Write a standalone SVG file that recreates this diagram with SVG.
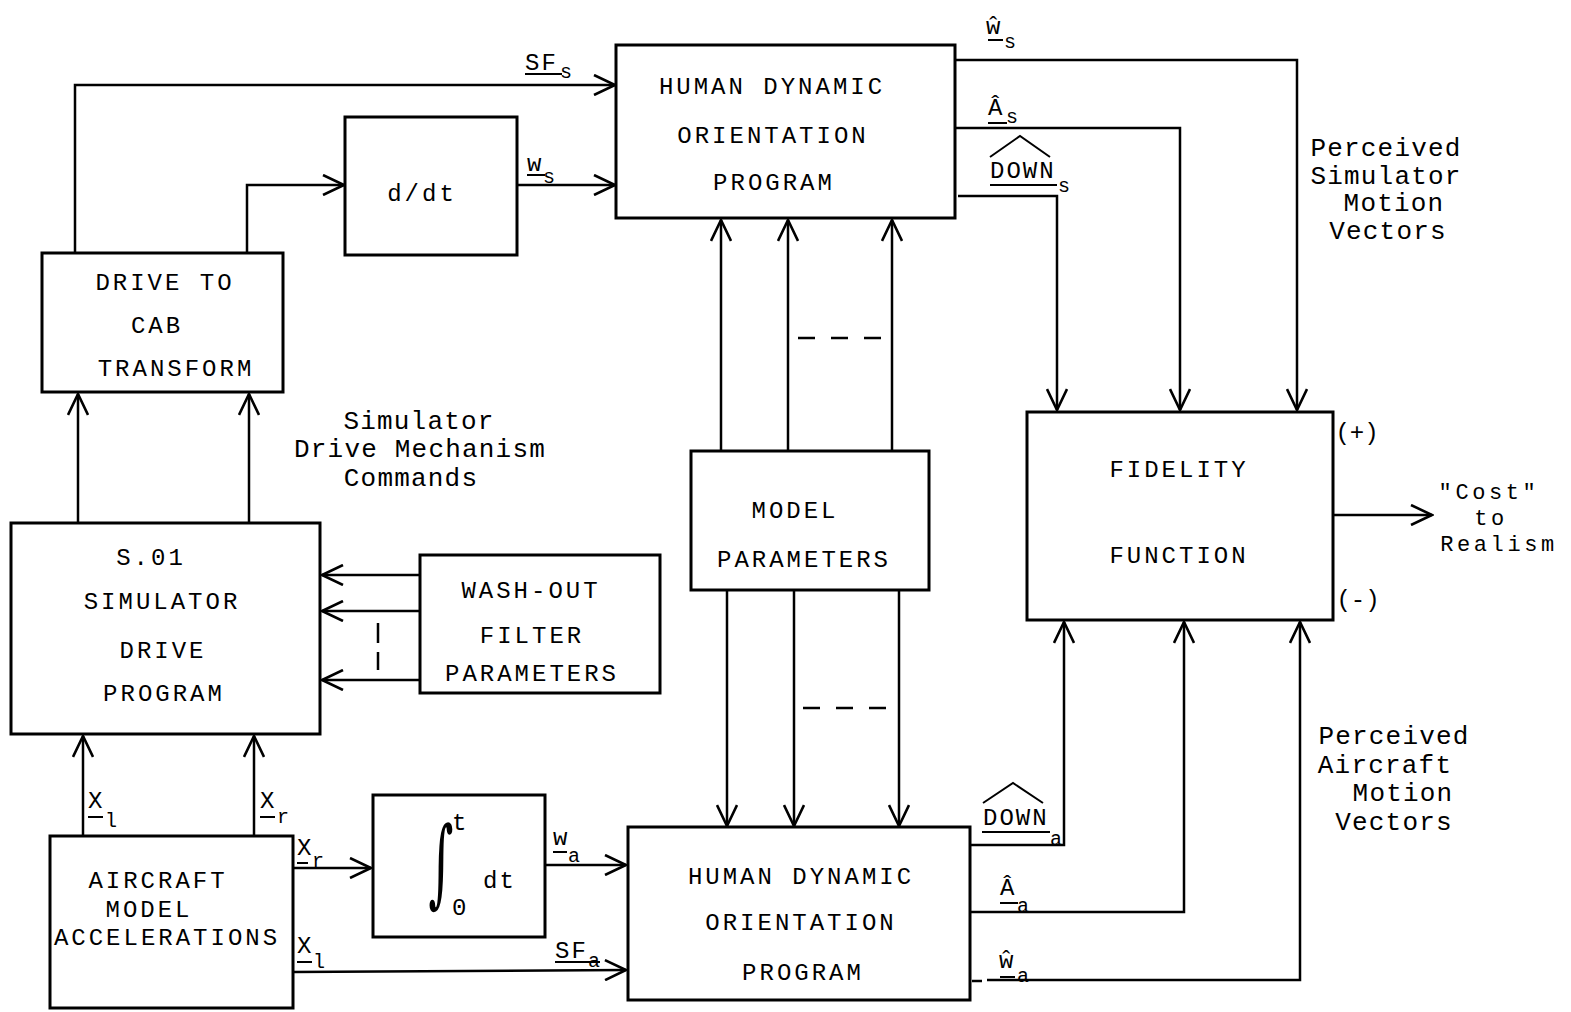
<svg xmlns="http://www.w3.org/2000/svg" width="1571" height="1012" viewBox="0 0 1571 1012">
<defs>
<marker id="arr" viewBox="0 0 24 22" refX="22" refY="11" markerWidth="24" markerHeight="22" markerUnits="userSpaceOnUse" orient="auto">
<path d="M1,1 L22,11 L1,21" fill="none" stroke="#000" stroke-width="2.6"/>
</marker>
<style>
rect.box{fill:#fff;stroke:#000;stroke-width:3}
.lbl{font-family:"Liberation Mono",monospace;font-size:24px;letter-spacing:3px;text-anchor:middle;fill:#000}
.note{font-family:"Liberation Mono",monospace;font-size:26px;letter-spacing:1.2px;text-anchor:middle;fill:#000}
.cost{font-family:"Liberation Mono",monospace;font-size:22px;letter-spacing:3.6px;text-anchor:middle;fill:#000}
.v{font-family:"Liberation Mono",monospace;font-size:24px;letter-spacing:2px;fill:#000}
.sub{font-family:"Liberation Mono",monospace;font-size:20px;fill:#000}
.c{fill:none;stroke:#000;stroke-width:2.5}
.ca{fill:none;stroke:#000;stroke-width:2.5;marker-end:url(#arr)}
.u{stroke:#000;stroke-width:2}
.d{fill:none;stroke:#000;stroke-width:2.5;stroke-dasharray:17,16}
</style>
</defs>
<rect width="1571" height="1012" fill="#fff"/>

<g id="connectors">
<path class="ca" d="M75,253 V85 H615"/>
<path class="ca" d="M247,253 V185 H344"/>
<path class="ca" d="M517,185 H615"/>
<path class="ca" d="M78,523 V394"/>
<path class="ca" d="M249,523 V394"/>
<path class="ca" d="M420,575 H322"/>
<path class="ca" d="M420,611 H322"/>
<path class="ca" d="M420,680 H322"/>
<path class="c" d="M378,623 V643 M378,652 V670"/>
<path class="ca" d="M83,836 V736"/>
<path class="ca" d="M254,836 V736"/>
<path class="ca" d="M293,868 H371"/>
<path class="ca" d="M545,865 H626"/>
<path class="ca" d="M293,972 L626,970"/>
<path class="ca" d="M721,450 V220"/>
<path class="ca" d="M788,450 V220"/>
<path class="ca" d="M892,450 V220"/>
<path class="d" d="M798,338 H885"/>
<path class="ca" d="M727,590 V826"/>
<path class="ca" d="M794,590 V826"/>
<path class="ca" d="M899,590 V826"/>
<path class="d" d="M803,708 H888"/>
<path class="ca" d="M955,60 H1297 V410"/>
<path class="ca" d="M955,128 H1180 V410"/>
<path class="ca" d="M958,196 H1057 V410"/>
<path class="ca" d="M970,845 H1064 V622"/>
<path class="ca" d="M970,912 H1184 V622"/>
<path class="ca" d="M987,980 H1300 V622"/>
<path class="c" d="M972,981 H982"/>
<path class="ca" d="M1333,515 H1432"/>
</g>

<g id="hdop-sim">
<rect class="box" x="616" y="45" width="339" height="173"/>
<text class="lbl" x="772" y="94">HUMAN DYNAMIC</text>
<text class="lbl" x="773" y="143">ORIENTATION</text>
<text class="lbl" x="774" y="190">PROGRAM</text>
</g>

<g id="ddt">
<rect class="box" x="345" y="117" width="172" height="138"/>
<text class="lbl" x="422" y="201">d/dt</text>
</g>

<g id="drive-to-cab">
<rect class="box" x="42" y="253" width="241" height="139"/>
<text class="lbl" x="165" y="290">DRIVE TO</text>
<text class="lbl" x="157" y="333">CAB</text>
<text class="lbl" x="176" y="376">TRANSFORM</text>
</g>

<g id="sim-drive">
<rect class="box" x="11" y="523" width="309" height="211"/>
<text class="lbl" x="151" y="565">S.01</text>
<text class="lbl" x="162" y="609">SIMULATOR</text>
<text class="lbl" x="163" y="658">DRIVE</text>
<text class="lbl" x="164" y="701">PROGRAM</text>
</g>

<g id="washout">
<rect class="box" x="420" y="555" width="240" height="138"/>
<text class="lbl" x="531" y="598">WASH-OUT</text>
<text class="lbl" x="532" y="643">FILTER</text>
<text class="lbl" x="532" y="681">PARAMETERS</text>
</g>

<g id="model-params">
<rect class="box" x="691" y="451" width="238" height="139"/>
<text class="lbl" x="795" y="518">MODEL</text>
<text class="lbl" x="804" y="567">PARAMETERS</text>
</g>

<g id="fidelity">
<rect class="box" x="1027" y="412" width="306" height="208"/>
<text class="lbl" x="1179" y="477">FIDELITY</text>
<text class="lbl" x="1179" y="563">FUNCTION</text>
<text class="lbl" x="1357" y="440" style="letter-spacing:0">(+)</text>
<text class="lbl" x="1358" y="607" style="letter-spacing:0">(-)</text>
</g>

<g id="aircraft">
<rect class="box" x="50" y="836" width="243" height="172"/>
<text class="lbl" x="158" y="888">AIRCRAFT</text>
<text class="lbl" x="149" y="917">MODEL</text>
<text class="lbl" x="167" y="945">ACCELERATIONS</text>
</g>

<g id="integrator">
<rect class="box" x="373" y="795" width="172" height="142"/>
<text font-family="DejaVu Serif, serif" font-size="60" text-anchor="middle" transform="translate(441,895) scale(0.8,1.6)">∫</text>
<text class="v" x="452" y="830">t</text>
<text class="v" x="452" y="915">0</text>
<text class="v" x="483" y="888">dt</text>
</g>

<g id="hdop-air">
<rect class="box" x="628" y="827" width="342" height="173"/>
<text class="lbl" x="801" y="884">HUMAN DYNAMIC</text>
<text class="lbl" x="801" y="930">ORIENTATION</text>
<text class="lbl" x="803" y="980">PROGRAM</text>
</g>

<g id="labels">
<text class="v" x="525" y="70">SF</text><line class="u" x1="525" y1="74" x2="562" y2="74"/><text class="sub" x="560" y="78">s</text>
<text class="v" x="527" y="171">w</text><line class="u" x1="527" y1="175" x2="545" y2="175"/><text class="sub" x="543" y="183">s</text>
<text class="v" x="986" y="34">ŵ</text><line class="u" x1="988" y1="40" x2="1003" y2="40"/><text class="sub" x="1004" y="48">s</text>
<text class="v" x="988" y="115">Â</text><line class="u" x1="988" y1="123" x2="1007" y2="123"/><text class="sub" x="1006" y="123">s</text>
<polyline class="u" fill="none" points="990,157 1020,136 1050,157"/>
<text class="v" x="990" y="178">DOWN</text><line class="u" x1="990" y1="185" x2="1057" y2="185"/><text class="sub" x="1058" y="192">s</text>
<polyline class="u" fill="none" points="983,803 1013,783 1043,803"/>
<text class="v" x="983" y="825">DOWN</text><line class="u" x1="982" y1="832" x2="1050" y2="832"/><text class="sub" x="1050" y="845">a</text>
<text class="v" x="1000" y="895">Â</text><line class="u" x1="1000" y1="903" x2="1018" y2="903"/><text class="sub" x="1017" y="912">a</text>
<text class="v" x="999" y="968">ŵ</text><line class="u" x1="1000" y1="977" x2="1015" y2="977"/><text class="sub" x="1017" y="982">a</text>
<text class="v" x="88" y="808">X</text><line class="u" x1="88" y1="817" x2="103" y2="817"/><text class="sub" x="105" y="827">l</text>
<text class="v" x="260" y="808">X</text><line class="u" x1="260" y1="817" x2="275" y2="817"/><text class="sub" x="277" y="823">r</text>
<text class="v" x="297" y="855">X</text><line class="u" x1="297" y1="863" x2="308" y2="863"/><text class="sub" x="312" y="867">r</text>
<text class="v" x="553" y="845">w</text><line class="u" x1="553" y1="852" x2="567" y2="852"/><text class="sub" x="568" y="862">a</text>
<text class="v" x="297" y="953">X</text><line class="u" x1="297" y1="962" x2="312" y2="962"/><text class="sub" x="313" y="968">l</text>
<text class="v" x="555" y="958">SF</text><line class="u" x1="555" y1="962" x2="600" y2="962"/><text class="sub" x="588" y="967">a</text>
<text class="note" x="419" y="429">Simulator</text>
<text class="note" x="420" y="457">Drive Mechanism</text>
<text class="note" x="411" y="486">Commands</text>
<text class="note" x="1386" y="156">Perceived</text>
<text class="note" x="1386" y="184">Simulator</text>
<text class="note" x="1394" y="211">Motion</text>
<text class="note" x="1388" y="239">Vectors</text>
<text class="note" x="1394" y="744">Perceived</text>
<text class="note" x="1385" y="773">Aircraft</text>
<text class="note" x="1403" y="801">Motion</text>
<text class="note" x="1394" y="830">Vectors</text>
<text class="cost" x="1489" y="499">"Cost"</text>
<text class="cost" x="1491" y="525">to</text>
<text class="cost" x="1499" y="551">Realism</text>
</g>
</svg>
